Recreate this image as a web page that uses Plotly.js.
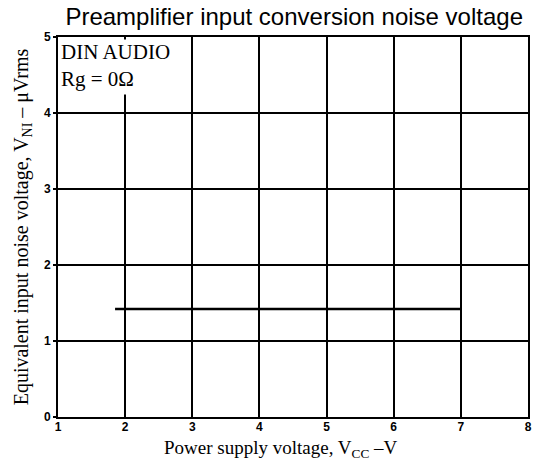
<!DOCTYPE html>
<html>
<head>
<meta charset="utf-8">
<script src="https://cdn.plot.ly/plotly-3.0.1.min.js"></script>
<style>html,body{margin:0;padding:0;background:#fff;}#chart{width:534px;height:462px;}</style>
</head>
<body>
<div id="chart"></div>
<script>
// Data
const supplyVoltage = [1.85, 7.0];       // V_CC (V)
const noiseVoltage = [1.42, 1.42];       // V_NI (µVrms)
const xTicks = [1, 2, 3, 4, 5, 6, 7, 8];
const yTicks = [0, 1, 2, 3, 4, 5];
const titleText = 'Preamplifier input conversion noise voltage';
const xTitle = 'Power supply voltage, V<sub>CC</sub> –V';
const yTitle = 'Equivalent input noise voltage, V<sub>NI</sub> – μVrms';
const noteText = 'DIN AUDIO<br>Rg = 0Ω';

const trace = {
  x: supplyVoltage,
  y: noiseVoltage,
  type: 'scatter',
  mode: 'lines',
  line: {color: '#000', width: 2.5},
  hoverinfo: 'skip',
  showlegend: false
};

const tickFont = {family: 'Liberation Sans, Arial, sans-serif', size: 12, color: '#000', weight: 'bold'};
const serif = 'Liberation Serif, Times New Roman, serif';

const layout = {
  width: 534,
  height: 462,
  paper_bgcolor: '#fff',
  plot_bgcolor: '#fff',
  margin: {l: 58, r: 6, t: 37, b: 45},
  title: {
    text: titleText,
    font: {family: 'Liberation Sans, Arial, sans-serif', size: 24, color: '#000'},
    x: 0.551, xanchor: 'center', y: 0.963, yanchor: 'middle'
  },
  xaxis: {
    range: [1, 8],
    tickvals: xTicks,
    ticktext: xTicks.map(String),
    tickfont: tickFont,
    ticks: '',
    ticklabelstandoff: -2,
    showgrid: true, gridcolor: '#000', gridwidth: 2,
    showline: true, linecolor: '#000', linewidth: 2, mirror: true,
    zeroline: false,
    automargin: false
  },
  yaxis: {
    range: [0, 5],
    tickvals: yTicks,
    ticktext: yTicks.map(String),
    tickfont: tickFont,
    ticks: 'outside', ticklen: 3, tickcolor: '#000', tickwidth: 2,
    showgrid: true, gridcolor: '#000', gridwidth: 2,
    showline: true, linecolor: '#000', linewidth: 2, mirror: true,
    zeroline: false,
    automargin: false,
    title: {text: yTitle, font: {family: serif, size: 20, color: '#000'}, standoff: 10}
  },
  annotations: [{
    text: noteText,
    xref: 'paper', yref: 'paper',
    x: 0.004, y: 0.995, xanchor: 'left', yanchor: 'top',
    align: 'left', valign: 'top',
    showarrow: false,
    bgcolor: '#fff',
    width: 124, height: 54,
    borderpad: 0,
    font: {family: serif, size: 21, color: '#000'}
  }, {
    text: xTitle,
    xref: 'paper', yref: 'paper',
    x: 0.474, y: -0.083, xanchor: 'center', yanchor: 'middle',
    showarrow: false,
    borderpad: 0,
    font: {family: serif, size: 19, color: '#000'}
  }]
};

Plotly.newPlot('chart', [trace], layout, {displayModeBar: false, staticPlot: true});
</script>
</body>
</html>
